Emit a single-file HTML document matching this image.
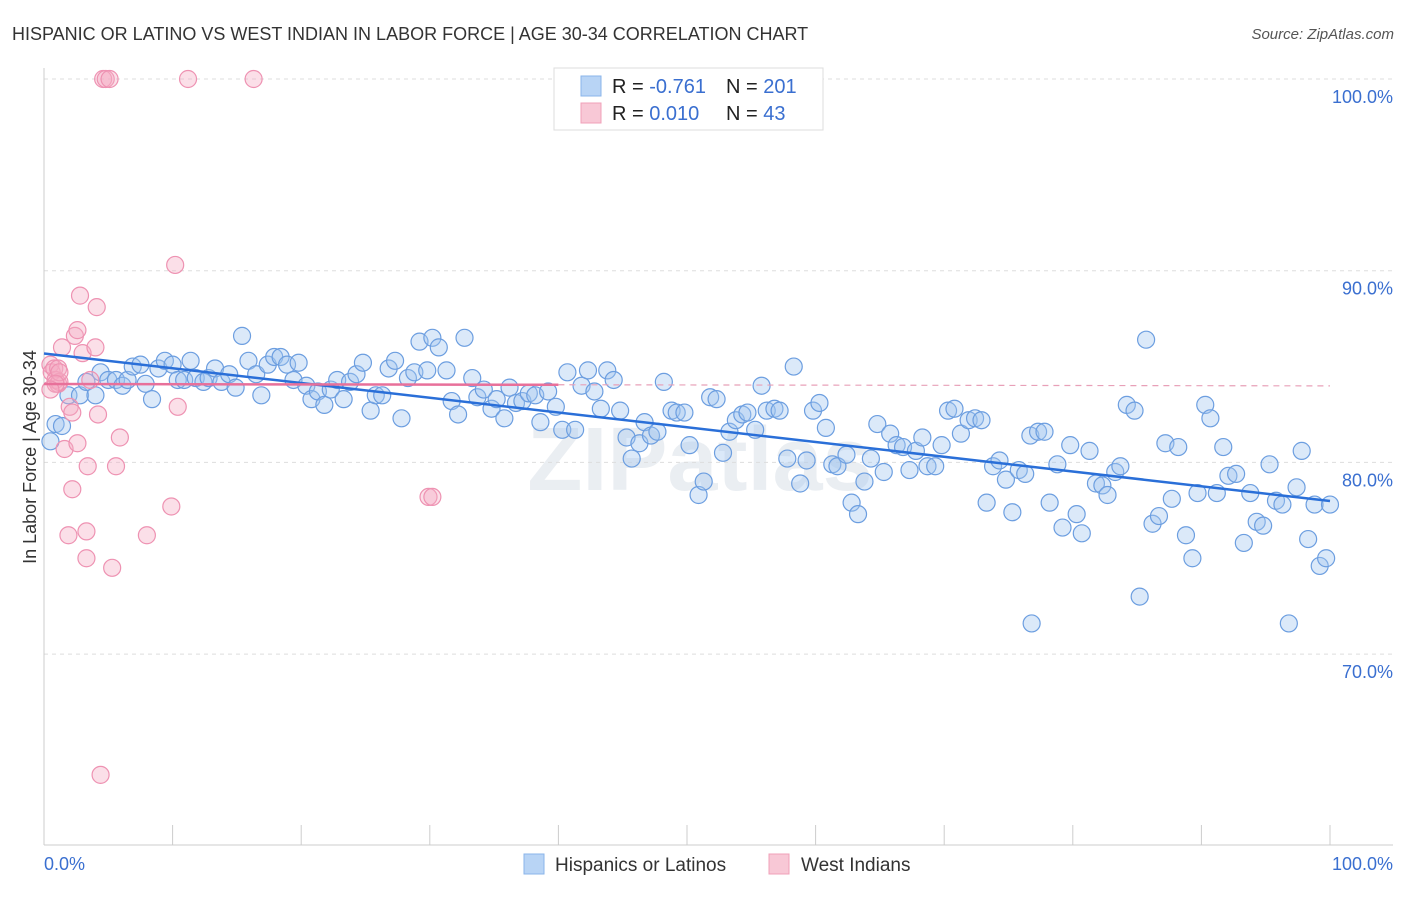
<!DOCTYPE html>
<html><head><meta charset="utf-8"><style>
body{margin:0;background:#fff;font-family:"Liberation Sans",sans-serif;}
svg text{font-family:"Liberation Sans",sans-serif;}
</style></head><body>
<svg id="c" width="1406" height="892" xmlns="http://www.w3.org/2000/svg">
<text x="12" y="40" font-size="18" fill="#333">HISPANIC OR LATINO VS WEST INDIAN IN LABOR FORCE | AGE 30-34 CORRELATION CHART</text>
<text x="1394" y="39" font-size="15" fill="#555" text-anchor="end" font-style="italic">Source: ZipAtlas.com</text>
<text x="36" y="457" font-size="18" fill="#333" text-anchor="middle" transform="rotate(-90 36 457)">In Labor Force | Age 30-34</text>
<text x="700" y="490" font-size="90" fill="#dde3ea" text-anchor="middle" font-weight="bold" opacity="0.6">ZIPatlas</text>
<g id="grid"></g><g id="pts"></g><g id="trend"></g>
<g>
<rect x="554" y="68" width="269" height="62" fill="#fff" stroke="#ddd"/>
<rect x="581" y="76" width="20" height="20" fill="#b8d4f5" stroke="#8ab4ea"/>
<rect x="581" y="103" width="20" height="20" fill="#f8c8d6" stroke="#f0a0b8"/>
<text x="612" y="93" font-size="20" fill="#222">R = <tspan fill="#3a6fd0">-0.761</tspan></text>
<text x="726" y="93" font-size="20" fill="#222">N = <tspan fill="#3a6fd0">201</tspan></text>
<text x="612" y="120" font-size="20" fill="#222">R = <tspan fill="#3a6fd0"> 0.010</tspan></text>
<text x="726" y="120" font-size="20" fill="#222">N = <tspan fill="#3a6fd0">  43</tspan></text>
</g>
<g>
<rect x="524" y="854" width="20" height="20" fill="#b8d4f5" stroke="#8ab4ea"/>
<text x="555" y="871" font-size="19" fill="#333">Hispanics or Latinos</text>
<rect x="769" y="854" width="20" height="20" fill="#f8c8d6" stroke="#f0a0b8"/>
<text x="801" y="871" font-size="19" fill="#333">West Indians</text>
</g>
</svg>
<script>
const blueX=[0.5,0.9,1.4,1.9,2.8,3.3,4.0,4.4,5.0,5.6,6.1,6.5,6.9,7.5,7.9,8.4,8.9,9.4,10.0,10.4,10.9,11.4,11.8,12.4,12.8,13.3,13.8,14.4,14.9,15.4,15.9,16.5,16.9,17.4,17.9,18.4,18.9,19.4,19.8,20.4,20.8,21.3,21.8,22.3,22.8,23.3,23.8,24.3,24.8,25.4,25.8,26.3,26.8,27.3,27.8,28.3,28.8,29.2,29.8,30.2,30.7,31.3,31.7,32.2,32.7,33.3,33.7,34.2,34.8,35.2,35.8,36.2,36.7,37.2,37.7,38.2,38.6,39.2,39.8,40.3,40.7,41.3,41.8,42.3,42.8,43.3,43.8,44.3,44.8,45.3,45.7,46.3,46.7,47.2,47.7,48.2,48.8,49.2,49.8,50.2,50.9,51.3,51.8,52.3,52.8,53.3,53.8,54.3,54.7,55.3,55.8,56.2,56.8,57.2,57.8,58.3,58.8,59.3,59.8,60.3,60.8,61.3,61.7,62.4,62.8,63.3,63.8,64.3,64.8,65.3,65.8,66.3,66.8,67.3,67.8,68.3,68.7,69.3,69.8,70.3,70.8,71.3,71.9,72.4,72.9,73.3,73.8,74.3,74.8,75.3,75.8,76.3,76.7,77.3,77.8,78.2,78.8,79.2,79.8,80.3,80.7,81.3,81.8,82.3,82.7,83.3,83.7,84.2,84.8,85.2,85.7,86.2,86.7,87.2,87.7,88.2,88.8,89.3,89.7,90.3,90.7,91.2,91.7,92.1,92.7,93.3,93.8,94.3,94.8,95.3,95.8,96.3,96.8,97.4,97.8,98.3,98.8,99.2,99.7,100.0,76.8];
const blueY=[81.1,82.0,81.9,83.5,83.5,84.2,83.5,84.7,84.3,84.3,84.0,84.3,85.0,85.1,84.1,83.3,84.9,85.3,85.1,84.3,84.3,85.3,84.4,84.2,84.4,84.9,84.2,84.6,83.9,86.6,85.3,84.6,83.5,85.1,85.5,85.5,85.1,84.3,85.2,84.0,83.3,83.7,83.0,83.8,84.3,83.3,84.2,84.6,85.2,82.7,83.5,83.5,84.9,85.3,82.3,84.4,84.7,86.3,84.8,86.5,86.0,84.8,83.2,82.5,86.5,84.4,83.4,83.8,82.8,83.3,82.3,83.9,83.1,83.2,83.6,83.5,82.1,83.7,82.9,81.7,84.7,81.7,84.0,84.8,83.7,82.8,84.8,84.3,82.7,81.3,80.2,81.0,82.1,81.4,81.6,84.2,82.7,82.6,82.6,80.9,78.3,79.0,83.4,83.3,80.5,81.6,82.2,82.5,82.6,81.7,84.0,82.7,82.8,82.7,80.2,85.0,78.9,80.1,82.7,83.1,81.8,79.9,79.8,80.4,77.9,77.3,79.0,80.2,82.0,79.5,81.5,80.9,80.8,79.6,80.6,81.3,79.8,79.8,80.9,82.7,82.8,81.5,82.2,82.3,82.2,77.9,79.8,80.1,79.1,77.4,79.6,79.4,81.4,81.6,81.6,77.9,79.9,76.6,80.9,77.3,76.3,80.6,78.9,78.8,78.3,79.5,79.8,83.0,82.7,73.0,86.4,76.8,77.2,81.0,78.1,80.8,76.2,75.0,78.4,83.0,82.3,78.4,80.8,79.3,79.4,75.8,78.4,76.9,76.7,79.9,78.0,77.8,71.6,78.7,80.6,76.0,77.8,74.6,75.0,77.8,71.6];
const pinkX=[0.5,0.6,0.8,0.9,1.1,1.2,1.4,1.6,1.9,2.0,2.2,2.2,2.4,2.6,2.6,2.8,3.0,3.3,3.3,3.4,3.6,4.0,4.1,4.2,4.4,4.6,4.8,5.1,5.3,5.6,5.9,8.0,9.9,10.2,10.4,11.2,16.3,29.9,30.2,1.1,1.2,0.9,0.5];
const pinkY=[85.1,84.7,84.9,84.3,84.1,84.2,86.0,80.7,76.2,82.9,78.6,82.6,86.6,86.9,81.0,88.7,85.7,76.4,75.0,79.8,84.3,86.0,88.1,82.5,63.7,100,100,100,74.5,79.8,81.3,76.2,77.7,90.3,82.9,100,100,78.2,78.2,84.9,84.7,84.1,83.8];
const yTicks=[100,90,80,70];
const yTickLabels=["100.0%","90.0%","80.0%","70.0%"];
const xTicks=[0,10,20,30,40,50,60,70,80,90,100];
const NS="http://www.w3.org/2000/svg";
const X=v=>44+v*12.86, Y=v=>79+(100-v)*19.17;
function mk(tag,at,parent){const e=document.createElementNS(NS,tag);for(const k in at)e.setAttribute(k,at[k]);parent.appendChild(e);return e;}
const grid=document.getElementById('grid'),pts=document.getElementById('pts'),tr=document.getElementById('trend');
yTicks.forEach((t,i)=>{
 const l=mk('line',{x1:44,x2:1393,y1:Y(t),y2:Y(t),stroke:'#ddd','stroke-dasharray':'4,4'},grid);
 
 
 const tx=mk('text',{x:1393,y:Y(t)+24,'font-size':18,fill:'#3a6fd0','text-anchor':'end'},grid);tx.textContent=yTickLabels[i];
 
 
});
const ax=mk('line',{x1:44,x2:1393,y1:845,y2:845,stroke:'#ccc'},grid);


const ay=mk('line',{x1:44,x2:44,y1:68,y2:845,stroke:'#ccc'},grid);


xTicks.forEach(t=>{const l=mk('line',{x1:X(t),x2:X(t),y1:825,y2:845,stroke:'#ccc'},grid);
 
 });
[[0,"0.0%","start",44],[100,"100.0%","end",1393]].forEach(a=>{const t=mk('text',{x:a[3],y:870,'font-size':18,fill:'#3a6fd0','text-anchor':a[2]},grid);t.textContent=a[1];
 
 });
function dots(xs,ys,fill,stroke,name){xs.forEach((x,i)=>{const c=mk('circle',{cx:X(x),cy:Y(ys[i]),r:8.5,fill:fill,stroke:stroke,'stroke-width':1.2},pts);
 
 });}
dots(blueX,blueY,'rgba(160,196,240,0.38)','#6c9ee0','hispanic-point');
dots(pinkX,pinkY,'rgba(245,170,195,0.38)','#ee92b2','west-indian-point');
function reg(xs,ys){const n=xs.length;let mx=0,my=0;for(let i=0;i<n;i++){mx+=xs[i];my+=ys[i];}mx/=n;my/=n;let sxy=0,sxx=0;for(let i=0;i<n;i++){sxy+=(xs[i]-mx)*(ys[i]-my);sxx+=(xs[i]-mx)**2;}const b=sxy/sxx;return [my-b*mx,b];}
const rb=reg(blueX,blueY);
const bl=mk('line',{x1:X(0),y1:Y(rb[0]),x2:X(100),y2:Y(rb[0]+rb[1]*100),stroke:'#2a6fd8','stroke-width':2.5},tr);


const rp=reg(pinkX,pinkY);
const p1=mk('line',{x1:X(0),y1:Y(rp[0]),x2:X(40),y2:Y(rp[0]+rp[1]*40),stroke:'#e8709a','stroke-width':2.5},tr);


const p2=mk('line',{x1:X(40),y1:Y(rp[0]+rp[1]*40),x2:X(100),y2:Y(rp[0]+rp[1]*100),stroke:'#e8a0b8','stroke-width':1.2,'stroke-dasharray':'6,5'},tr);


</script>
</body></html>
